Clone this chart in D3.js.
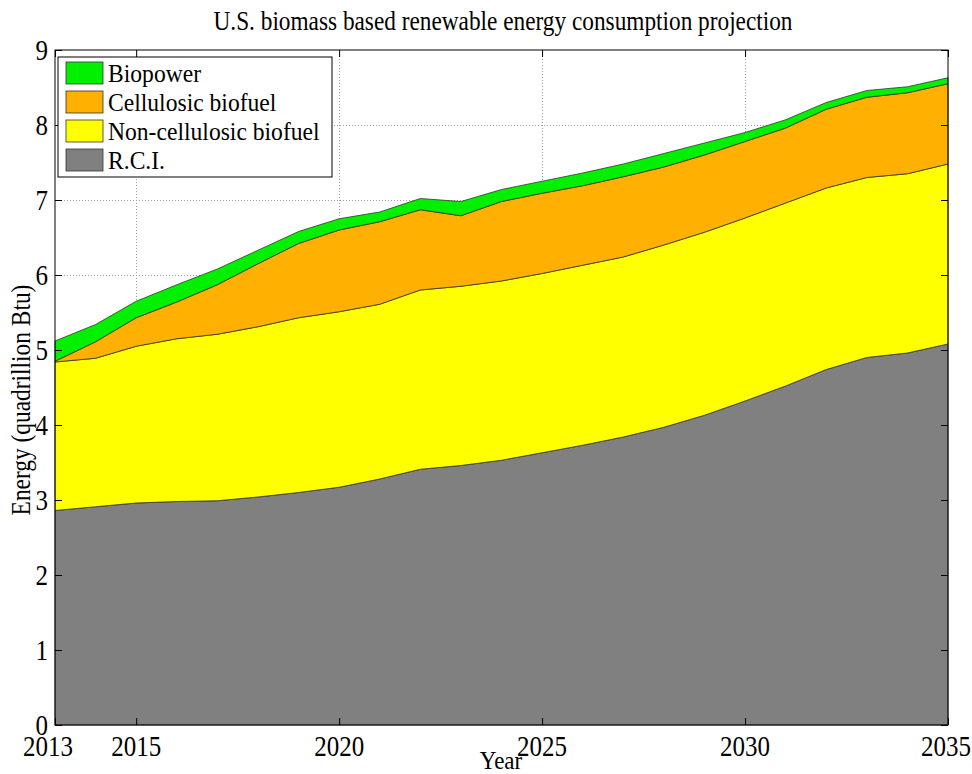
<!DOCTYPE html>
<html>
<head>
<meta charset="utf-8">
<script src="https://cdn.jsdelivr.net/npm/d3@7"></script>
<style>
  html, body { margin: 0; padding: 0; background: #fff; }
  svg { display: block; }
  text { font-family: "Liberation Serif", "Times New Roman", serif; fill: #000; }
</style>
</head>
<body>
<svg id="chart" width="972" height="774"></svg>
<script>
// Projected U.S. biomass energy consumption (quadrillion Btu), by use
const years = [2013, 2014, 2015, 2016, 2017, 2018, 2019, 2020, 2021, 2022, 2023, 2024,
               2025, 2026, 2027, 2028, 2029, 2030, 2031, 2032, 2033, 2034, 2035];
const rci = [2.86, 2.91, 2.96, 2.98, 2.99, 3.04, 3.10, 3.17, 3.28, 3.41, 3.46, 3.53,
             3.63, 3.73, 3.84, 3.97, 4.13, 4.32, 4.52, 4.74, 4.90, 4.96, 5.08];
const nonCellulosic = [1.98, 1.98, 2.09, 2.17, 2.22, 2.27, 2.33, 2.34, 2.33, 2.39, 2.39, 2.39,
                       2.39, 2.40, 2.40, 2.43, 2.44, 2.44, 2.44, 2.42, 2.40, 2.39, 2.40];
const cellulosic = [0.01, 0.22, 0.38, 0.49, 0.66, 0.84, 0.99, 1.09, 1.10, 1.07, 0.94, 1.06,
                    1.07, 1.06, 1.07, 1.04, 1.03, 1.02, 1.00, 1.05, 1.07, 1.08, 1.07];
const biopower = [0.27, 0.23, 0.22, 0.23, 0.21, 0.18, 0.16, 0.15, 0.13, 0.15, 0.19, 0.16,
                  0.16, 0.17, 0.17, 0.18, 0.16, 0.12, 0.11, 0.09, 0.09, 0.08, 0.08];

const seriesNames = ["R.C.I.", "Non-cellulosic biofuel", "Cellulosic biofuel", "Biopower"];
const seriesColors = ["#808080", "#ffff00", "#ffb000", "#00f000"];
const xTicks = [2013, 2015, 2020, 2025, 2030, 2035];
const yTicks = [0, 1, 2, 3, 4, 5, 6, 7, 8, 9];

const title = "U.S. biomass based renewable energy consumption projection";
const xLabel = "Year";
const yLabel = "Energy (quadrillion Btu)";

const rows = years.map((y, i) => ({
  year: y,
  "R.C.I.": rci[i],
  "Non-cellulosic biofuel": nonCellulosic[i],
  "Cellulosic biofuel": cellulosic[i],
  "Biopower": biopower[i]
}));

const svg = d3.select("#chart");
const m = { left: 55, right: 948, top: 50, bottom: 725 };

const x = d3.scaleLinear().domain([2013, 2035]).range([m.left, m.right]);
const y = d3.scaleLinear().domain([0, 9]).range([m.bottom, m.top]);

// Tall, narrow serif lettering: place text at (px, py), optionally rotated,
// then stretch it vertically in its own frame.
function label(parent, px, py, str, size, anchor, opts = {}) {
  const rot = opts.rotate || 0;
  const sy = opts.stretch || 1.15;
  const g = parent.append("g")
    .attr("transform", `translate(${px},${py}) rotate(${rot}) scale(1,${sy})`);
  return g.append("text")
    .attr("x", 0).attr("y", 0)
    .attr("text-anchor", anchor)
    .style("font-size", size + "px")
    .text(str);
}

// Dotted grid, drawn beneath the areas
const grid = svg.append("g").attr("stroke", "#a0a0a0").attr("stroke-width", 1)
  .attr("stroke-dasharray", "1,2");
grid.selectAll(".gx").data(xTicks.filter(t => t !== 2013 && t !== 2035)).join("line")
  .attr("x1", d => Math.round(x(d)) + 0.5).attr("x2", d => Math.round(x(d)) + 0.5)
  .attr("y1", m.top).attr("y2", m.bottom);
grid.selectAll(".gy").data(yTicks.filter(t => t !== 0 && t !== 9)).join("line")
  .attr("y1", d => Math.round(y(d)) + 0.5).attr("y2", d => Math.round(y(d)) + 0.5)
  .attr("x1", m.left).attr("x2", m.right);

// Stacked areas
const stack = d3.stack().keys(seriesNames);
const layers = stack(rows);
const area = d3.area()
  .x(d => x(d.data.year))
  .y0(d => y(d[0]))
  .y1(d => y(d[1]));

svg.append("g").selectAll("path").data(layers).join("path")
  .attr("d", area)
  .attr("fill", (d, i) => seriesColors[i])
  .attr("stroke", "#333")
  .attr("stroke-width", 0.8)
  .attr("stroke-linejoin", "round");

// Axes box with inward ticks on all four sides (labels drawn separately)
const axisG = svg.append("g");
const tickLen = 7;
const xBottom = d3.axisBottom(x).tickValues(xTicks).tickFormat("")
  .tickSizeInner(-tickLen).tickSizeOuter(0);
const xTop = d3.axisTop(x).tickValues(xTicks).tickFormat("")
  .tickSizeInner(-tickLen).tickSizeOuter(0);
const yLeft = d3.axisLeft(y).tickValues(yTicks).tickFormat("")
  .tickSizeInner(-tickLen).tickSizeOuter(0);
const yRight = d3.axisRight(y).tickValues(yTicks).tickFormat("")
  .tickSizeInner(-tickLen).tickSizeOuter(0);

function styleAxis(g) {
  g.select(".domain").remove();
  g.selectAll(".tick line").attr("stroke", "#000");
  g.selectAll(".tick text").remove();
}

axisG.append("g").attr("transform", `translate(0,${m.bottom})`).call(xBottom).call(styleAxis);
axisG.append("g").attr("transform", `translate(0,${m.top})`).call(xTop).call(styleAxis);
axisG.append("g").attr("transform", `translate(${m.left},0)`).call(yLeft).call(styleAxis);
axisG.append("g").attr("transform", `translate(${m.right},0)`).call(yRight).call(styleAxis);

axisG.append("rect")
  .attr("x", m.left).attr("y", m.top)
  .attr("width", m.right - m.left).attr("height", m.bottom - m.top)
  .attr("fill", "none").attr("stroke", "#000").attr("stroke-width", 1);

// Tick labels
const tickFont = 25;
const xLab = svg.append("g");
xTicks.forEach((t, i) => {
  let px = x(t), anchor = "middle";
  if (i === 0) { px = x(t) - 7; }
  if (i === xTicks.length - 1) { px = 971; anchor = "end"; }
  label(xLab, px, 756, String(t), tickFont, anchor, { stretch: 1.2 });
});
const yLab = svg.append("g");
yTicks.forEach(t => {
  label(yLab, 48, y(t) + 10, String(t), tickFont, "end", { stretch: 1.2 });
});

// Titles
label(svg, 503, 30, title, 23.3, "middle", { stretch: 1.15 });
label(svg, 501, 769, xLabel, 23, "middle", { stretch: 1.1 });
label(svg, 30, 400, yLabel, 23.4, "middle", { rotate: -90, stretch: 1.15 });

// Legend (top series listed first)
const legend = svg.append("g").attr("transform", "translate(58,57)");
legend.append("rect").attr("x", 0).attr("y", 0).attr("width", 274).attr("height", 120)
  .attr("fill", "#fff").attr("stroke", "#000").attr("stroke-width", 1);
const legendItems = seriesNames.map((n, i) => ({ name: n, color: seriesColors[i] })).reverse();
legendItems.forEach((d, i) => {
  const row = legend.append("g").attr("transform", `translate(8,${5 + i * 29})`);
  row.append("rect").attr("width", 37).attr("height", 22)
    .attr("fill", d.color).attr("stroke", "#333").attr("stroke-width", 0.8);
  label(row, 42, 20, d.name, 23.6, "start", { stretch: 1.1 });
});
</script>
</body>
</html>
